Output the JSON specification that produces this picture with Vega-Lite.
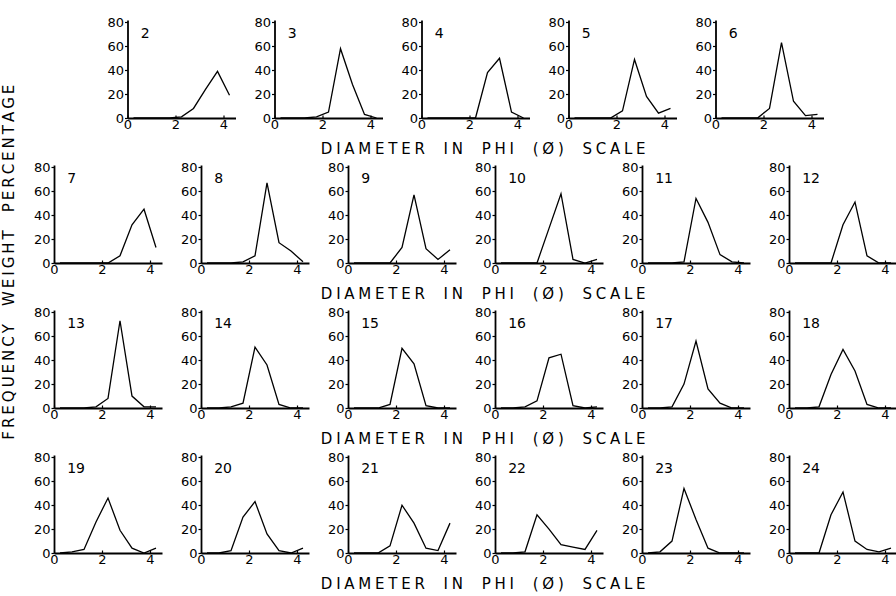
{
"$schema": "https://vega.github.io/schema/vega-lite/v6.json",
"padding": {"left": 2, "top": 16, "right": 0, "bottom": 0},
"background": "white",
"datasets": {"curves": [
{"panel":2,"phi":0.25,"pct":0},{"panel":2,"phi":0.75,"pct":0},{"panel":2,"phi":1.25,"pct":0},{"panel":2,"phi":1.75,"pct":0},{"panel":2,"phi":2.25,"pct":1},{"panel":2,"phi":2.75,"pct":8},{"panel":2,"phi":3.25,"pct":24},{"panel":2,"phi":3.75,"pct":39},{"panel":2,"phi":4.25,"pct":19},
{"panel":3,"phi":0.25,"pct":0},{"panel":3,"phi":0.75,"pct":0},{"panel":3,"phi":1.25,"pct":0},{"panel":3,"phi":1.75,"pct":1},{"panel":3,"phi":2.25,"pct":5},{"panel":3,"phi":2.75,"pct":58},{"panel":3,"phi":3.25,"pct":28},{"panel":3,"phi":3.75,"pct":3},{"panel":3,"phi":4.25,"pct":0},
{"panel":4,"phi":0.25,"pct":0},{"panel":4,"phi":0.75,"pct":0},{"panel":4,"phi":1.25,"pct":0},{"panel":4,"phi":1.75,"pct":0},{"panel":4,"phi":2.25,"pct":0},{"panel":4,"phi":2.75,"pct":38},{"panel":4,"phi":3.25,"pct":50},{"panel":4,"phi":3.75,"pct":5},{"panel":4,"phi":4.25,"pct":0},
{"panel":5,"phi":0.25,"pct":0},{"panel":5,"phi":0.75,"pct":0},{"panel":5,"phi":1.25,"pct":0},{"panel":5,"phi":1.75,"pct":0},{"panel":5,"phi":2.25,"pct":6},{"panel":5,"phi":2.75,"pct":49},{"panel":5,"phi":3.25,"pct":18},{"panel":5,"phi":3.75,"pct":4},{"panel":5,"phi":4.25,"pct":8},
{"panel":6,"phi":0.25,"pct":0},{"panel":6,"phi":0.75,"pct":0},{"panel":6,"phi":1.25,"pct":0},{"panel":6,"phi":1.75,"pct":0},{"panel":6,"phi":2.25,"pct":8},{"panel":6,"phi":2.75,"pct":63},{"panel":6,"phi":3.25,"pct":14},{"panel":6,"phi":3.75,"pct":2},{"panel":6,"phi":4.25,"pct":3},
{"panel":7,"phi":0.25,"pct":0},{"panel":7,"phi":0.75,"pct":0},{"panel":7,"phi":1.25,"pct":0},{"panel":7,"phi":1.75,"pct":0},{"panel":7,"phi":2.25,"pct":0},{"panel":7,"phi":2.75,"pct":6},{"panel":7,"phi":3.25,"pct":32},{"panel":7,"phi":3.75,"pct":45},{"panel":7,"phi":4.25,"pct":13},
{"panel":8,"phi":0.25,"pct":0},{"panel":8,"phi":0.75,"pct":0},{"panel":8,"phi":1.25,"pct":0},{"panel":8,"phi":1.75,"pct":1},{"panel":8,"phi":2.25,"pct":6},{"panel":8,"phi":2.75,"pct":67},{"panel":8,"phi":3.25,"pct":17},{"panel":8,"phi":3.75,"pct":10},{"panel":8,"phi":4.25,"pct":1},
{"panel":9,"phi":0.25,"pct":0},{"panel":9,"phi":0.75,"pct":0},{"panel":9,"phi":1.25,"pct":0},{"panel":9,"phi":1.75,"pct":0},{"panel":9,"phi":2.25,"pct":13},{"panel":9,"phi":2.75,"pct":57},{"panel":9,"phi":3.25,"pct":12},{"panel":9,"phi":3.75,"pct":3},{"panel":9,"phi":4.25,"pct":11},
{"panel":10,"phi":0.25,"pct":0},{"panel":10,"phi":0.75,"pct":0},{"panel":10,"phi":1.25,"pct":0},{"panel":10,"phi":1.75,"pct":0},{"panel":10,"phi":2.25,"pct":29},{"panel":10,"phi":2.75,"pct":58},{"panel":10,"phi":3.25,"pct":3},{"panel":10,"phi":3.75,"pct":0},{"panel":10,"phi":4.25,"pct":3},
{"panel":11,"phi":0.25,"pct":0},{"panel":11,"phi":0.75,"pct":0},{"panel":11,"phi":1.25,"pct":0},{"panel":11,"phi":1.75,"pct":1},{"panel":11,"phi":2.25,"pct":54},{"panel":11,"phi":2.75,"pct":34},{"panel":11,"phi":3.25,"pct":7},{"panel":11,"phi":3.75,"pct":1},{"panel":11,"phi":4.25,"pct":0},
{"panel":12,"phi":0.25,"pct":0},{"panel":12,"phi":0.75,"pct":0},{"panel":12,"phi":1.25,"pct":0},{"panel":12,"phi":1.75,"pct":0},{"panel":12,"phi":2.25,"pct":32},{"panel":12,"phi":2.75,"pct":51},{"panel":12,"phi":3.25,"pct":6},{"panel":12,"phi":3.75,"pct":0},{"panel":12,"phi":4.25,"pct":0},
{"panel":13,"phi":0.25,"pct":0},{"panel":13,"phi":0.75,"pct":0},{"panel":13,"phi":1.25,"pct":0},{"panel":13,"phi":1.75,"pct":1},{"panel":13,"phi":2.25,"pct":8},{"panel":13,"phi":2.75,"pct":73},{"panel":13,"phi":3.25,"pct":10},{"panel":13,"phi":3.75,"pct":1},{"panel":13,"phi":4.25,"pct":1},
{"panel":14,"phi":0.25,"pct":0},{"panel":14,"phi":0.75,"pct":0},{"panel":14,"phi":1.25,"pct":1},{"panel":14,"phi":1.75,"pct":4},{"panel":14,"phi":2.25,"pct":51},{"panel":14,"phi":2.75,"pct":36},{"panel":14,"phi":3.25,"pct":3},{"panel":14,"phi":3.75,"pct":0},{"panel":14,"phi":4.25,"pct":0},
{"panel":15,"phi":0.25,"pct":0},{"panel":15,"phi":0.75,"pct":0},{"panel":15,"phi":1.25,"pct":0},{"panel":15,"phi":1.75,"pct":3},{"panel":15,"phi":2.25,"pct":50},{"panel":15,"phi":2.75,"pct":37},{"panel":15,"phi":3.25,"pct":2},{"panel":15,"phi":3.75,"pct":0},{"panel":15,"phi":4.25,"pct":0},
{"panel":16,"phi":0.25,"pct":0},{"panel":16,"phi":0.75,"pct":0},{"panel":16,"phi":1.25,"pct":1},{"panel":16,"phi":1.75,"pct":6},{"panel":16,"phi":2.25,"pct":42},{"panel":16,"phi":2.75,"pct":45},{"panel":16,"phi":3.25,"pct":2},{"panel":16,"phi":3.75,"pct":0},{"panel":16,"phi":4.25,"pct":1},
{"panel":17,"phi":0.25,"pct":0},{"panel":17,"phi":0.75,"pct":0},{"panel":17,"phi":1.25,"pct":1},{"panel":17,"phi":1.75,"pct":20},{"panel":17,"phi":2.25,"pct":56},{"panel":17,"phi":2.75,"pct":16},{"panel":17,"phi":3.25,"pct":4},{"panel":17,"phi":3.75,"pct":0},{"panel":17,"phi":4.25,"pct":0},
{"panel":18,"phi":0.25,"pct":0},{"panel":18,"phi":0.75,"pct":0},{"panel":18,"phi":1.25,"pct":1},{"panel":18,"phi":1.75,"pct":28},{"panel":18,"phi":2.25,"pct":49},{"panel":18,"phi":2.75,"pct":31},{"panel":18,"phi":3.25,"pct":3},{"panel":18,"phi":3.75,"pct":0},{"panel":18,"phi":4.25,"pct":0},
{"panel":19,"phi":0.25,"pct":0},{"panel":19,"phi":0.75,"pct":1},{"panel":19,"phi":1.25,"pct":3},{"panel":19,"phi":1.75,"pct":26},{"panel":19,"phi":2.25,"pct":46},{"panel":19,"phi":2.75,"pct":19},{"panel":19,"phi":3.25,"pct":4},{"panel":19,"phi":3.75,"pct":0},{"panel":19,"phi":4.25,"pct":4},
{"panel":20,"phi":0.25,"pct":0},{"panel":20,"phi":0.75,"pct":0},{"panel":20,"phi":1.25,"pct":2},{"panel":20,"phi":1.75,"pct":30},{"panel":20,"phi":2.25,"pct":43},{"panel":20,"phi":2.75,"pct":16},{"panel":20,"phi":3.25,"pct":2},{"panel":20,"phi":3.75,"pct":0},{"panel":20,"phi":4.25,"pct":4},
{"panel":21,"phi":0.25,"pct":0},{"panel":21,"phi":0.75,"pct":0},{"panel":21,"phi":1.25,"pct":0},{"panel":21,"phi":1.75,"pct":6},{"panel":21,"phi":2.25,"pct":40},{"panel":21,"phi":2.75,"pct":25},{"panel":21,"phi":3.25,"pct":4},{"panel":21,"phi":3.75,"pct":2},{"panel":21,"phi":4.25,"pct":25},
{"panel":22,"phi":0.25,"pct":0},{"panel":22,"phi":0.75,"pct":0},{"panel":22,"phi":1.25,"pct":1},{"panel":22,"phi":1.75,"pct":32},{"panel":22,"phi":2.25,"pct":20},{"panel":22,"phi":2.75,"pct":7},{"panel":22,"phi":3.25,"pct":5},{"panel":22,"phi":3.75,"pct":3},{"panel":22,"phi":4.25,"pct":19},
{"panel":23,"phi":0.25,"pct":0},{"panel":23,"phi":0.75,"pct":1},{"panel":23,"phi":1.25,"pct":10},{"panel":23,"phi":1.75,"pct":54},{"panel":23,"phi":2.25,"pct":28},{"panel":23,"phi":2.75,"pct":4},{"panel":23,"phi":3.25,"pct":0},{"panel":23,"phi":3.75,"pct":0},{"panel":23,"phi":4.25,"pct":0},
{"panel":24,"phi":0.25,"pct":0},{"panel":24,"phi":0.75,"pct":0},{"panel":24,"phi":1.25,"pct":0},{"panel":24,"phi":1.75,"pct":32},{"panel":24,"phi":2.25,"pct":51},{"panel":24,"phi":2.75,"pct":10},{"panel":24,"phi":3.25,"pct":3},{"panel":24,"phi":3.75,"pct":1},{"panel":24,"phi":4.25,"pct":4}
]},
"data": {"name": "curves"},
"title": {"text": "F\u2009R\u2009E\u2009Q\u2009U\u2009E\u2009N\u2009C\u2009Y\u2003\u2009W\u2009E\u2009I\u2009G\u2009H\u2009T\u2003\u2009P\u2009E\u2009R\u2009C\u2009E\u2009N\u2009T\u2009A\u2009G\u2009E", "orient": "left", "anchor": "middle", "fontSize": 15, "offset": 16, "dx": 42},
"center": true,
"spacing": 4,
"vconcat": [
{"spacing": 18,
 "title": {"text": "D\u2005I\u2005A\u2005M\u2005E\u2005T\u2005E\u2005R\u2003\u2005I\u2005N\u2003\u2005P\u2005H\u2005I\u2003\u2005(\u2005Ø\u2005)\u2003\u2005S\u2005C\u2005A\u2005L\u2005E", "orient": "bottom", "anchor": "middle", "fontSize": 15, "offset": 11, "dx": 18},
 "hconcat": [
  {"width":108,"height":98,"transform":[{"filter":"datum.panel==2"}],"layer":[{"mark":{"type":"line","color":"black","strokeWidth":1.3},"encoding":{"x":{"field":"phi","type":"quantitative","scale":{"domain":[0,4.5],"nice":false},"title":null},"y":{"field":"pct","type":"quantitative","scale":{"domain":[0,82],"nice":false},"title":null}}},{"transform":[{"filter":"datum.phi==0.25"}],"mark":{"type":"text","align":"left","baseline":"middle","fontSize":14},"encoding":{"x":{"datum":0.55,"title":null},"y":{"datum":70,"title":null},"text":{"field":"panel"}}}]},
  {"width":108,"height":98,"transform":[{"filter":"datum.panel==3"}],"layer":[{"mark":{"type":"line","color":"black","strokeWidth":1.3},"encoding":{"x":{"field":"phi","type":"quantitative","scale":{"domain":[0,4.5],"nice":false},"title":null},"y":{"field":"pct","type":"quantitative","scale":{"domain":[0,82],"nice":false},"title":null}}},{"transform":[{"filter":"datum.phi==0.25"}],"mark":{"type":"text","align":"left","baseline":"middle","fontSize":14},"encoding":{"x":{"datum":0.55,"title":null},"y":{"datum":70,"title":null},"text":{"field":"panel"}}}]},
  {"width":108,"height":98,"transform":[{"filter":"datum.panel==4"}],"layer":[{"mark":{"type":"line","color":"black","strokeWidth":1.3},"encoding":{"x":{"field":"phi","type":"quantitative","scale":{"domain":[0,4.5],"nice":false},"title":null},"y":{"field":"pct","type":"quantitative","scale":{"domain":[0,82],"nice":false},"title":null}}},{"transform":[{"filter":"datum.phi==0.25"}],"mark":{"type":"text","align":"left","baseline":"middle","fontSize":14},"encoding":{"x":{"datum":0.55,"title":null},"y":{"datum":70,"title":null},"text":{"field":"panel"}}}]},
  {"width":108,"height":98,"transform":[{"filter":"datum.panel==5"}],"layer":[{"mark":{"type":"line","color":"black","strokeWidth":1.3},"encoding":{"x":{"field":"phi","type":"quantitative","scale":{"domain":[0,4.5],"nice":false},"title":null},"y":{"field":"pct","type":"quantitative","scale":{"domain":[0,82],"nice":false},"title":null}}},{"transform":[{"filter":"datum.phi==0.25"}],"mark":{"type":"text","align":"left","baseline":"middle","fontSize":14},"encoding":{"x":{"datum":0.55,"title":null},"y":{"datum":70,"title":null},"text":{"field":"panel"}}}]},
  {"width":108,"height":98,"transform":[{"filter":"datum.panel==6"}],"layer":[{"mark":{"type":"line","color":"black","strokeWidth":1.3},"encoding":{"x":{"field":"phi","type":"quantitative","scale":{"domain":[0,4.5],"nice":false},"title":null},"y":{"field":"pct","type":"quantitative","scale":{"domain":[0,82],"nice":false},"title":null}}},{"transform":[{"filter":"datum.phi==0.25"}],"mark":{"type":"text","align":"left","baseline":"middle","fontSize":14},"encoding":{"x":{"datum":0.55,"title":null},"y":{"datum":70,"title":null},"text":{"field":"panel"}}}]}
 ]},
{"spacing": 18,
 "title": {"text": "D\u2005I\u2005A\u2005M\u2005E\u2005T\u2005E\u2005R\u2003\u2005I\u2005N\u2003\u2005P\u2005H\u2005I\u2003\u2005(\u2005Ø\u2005)\u2003\u2005S\u2005C\u2005A\u2005L\u2005E", "orient": "bottom", "anchor": "middle", "fontSize": 15, "offset": 11, "dx": 18},
 "hconcat": [
  {"width":108,"height":98,"transform":[{"filter":"datum.panel==7"}],"layer":[{"mark":{"type":"line","color":"black","strokeWidth":1.3},"encoding":{"x":{"field":"phi","type":"quantitative","scale":{"domain":[0,4.5],"nice":false},"title":null},"y":{"field":"pct","type":"quantitative","scale":{"domain":[0,82],"nice":false},"title":null}}},{"transform":[{"filter":"datum.phi==0.25"}],"mark":{"type":"text","align":"left","baseline":"middle","fontSize":14},"encoding":{"x":{"datum":0.55,"title":null},"y":{"datum":70,"title":null},"text":{"field":"panel"}}}]},
  {"width":108,"height":98,"transform":[{"filter":"datum.panel==8"}],"layer":[{"mark":{"type":"line","color":"black","strokeWidth":1.3},"encoding":{"x":{"field":"phi","type":"quantitative","scale":{"domain":[0,4.5],"nice":false},"title":null},"y":{"field":"pct","type":"quantitative","scale":{"domain":[0,82],"nice":false},"title":null}}},{"transform":[{"filter":"datum.phi==0.25"}],"mark":{"type":"text","align":"left","baseline":"middle","fontSize":14},"encoding":{"x":{"datum":0.55,"title":null},"y":{"datum":70,"title":null},"text":{"field":"panel"}}}]},
  {"width":108,"height":98,"transform":[{"filter":"datum.panel==9"}],"layer":[{"mark":{"type":"line","color":"black","strokeWidth":1.3},"encoding":{"x":{"field":"phi","type":"quantitative","scale":{"domain":[0,4.5],"nice":false},"title":null},"y":{"field":"pct","type":"quantitative","scale":{"domain":[0,82],"nice":false},"title":null}}},{"transform":[{"filter":"datum.phi==0.25"}],"mark":{"type":"text","align":"left","baseline":"middle","fontSize":14},"encoding":{"x":{"datum":0.55,"title":null},"y":{"datum":70,"title":null},"text":{"field":"panel"}}}]},
  {"width":108,"height":98,"transform":[{"filter":"datum.panel==10"}],"layer":[{"mark":{"type":"line","color":"black","strokeWidth":1.3},"encoding":{"x":{"field":"phi","type":"quantitative","scale":{"domain":[0,4.5],"nice":false},"title":null},"y":{"field":"pct","type":"quantitative","scale":{"domain":[0,82],"nice":false},"title":null}}},{"transform":[{"filter":"datum.phi==0.25"}],"mark":{"type":"text","align":"left","baseline":"middle","fontSize":14},"encoding":{"x":{"datum":0.55,"title":null},"y":{"datum":70,"title":null},"text":{"field":"panel"}}}]},
  {"width":108,"height":98,"transform":[{"filter":"datum.panel==11"}],"layer":[{"mark":{"type":"line","color":"black","strokeWidth":1.3},"encoding":{"x":{"field":"phi","type":"quantitative","scale":{"domain":[0,4.5],"nice":false},"title":null},"y":{"field":"pct","type":"quantitative","scale":{"domain":[0,82],"nice":false},"title":null}}},{"transform":[{"filter":"datum.phi==0.25"}],"mark":{"type":"text","align":"left","baseline":"middle","fontSize":14},"encoding":{"x":{"datum":0.55,"title":null},"y":{"datum":70,"title":null},"text":{"field":"panel"}}}]},
  {"width":108,"height":98,"transform":[{"filter":"datum.panel==12"}],"layer":[{"mark":{"type":"line","color":"black","strokeWidth":1.3},"encoding":{"x":{"field":"phi","type":"quantitative","scale":{"domain":[0,4.5],"nice":false},"title":null},"y":{"field":"pct","type":"quantitative","scale":{"domain":[0,82],"nice":false},"title":null}}},{"transform":[{"filter":"datum.phi==0.25"}],"mark":{"type":"text","align":"left","baseline":"middle","fontSize":14},"encoding":{"x":{"datum":0.55,"title":null},"y":{"datum":70,"title":null},"text":{"field":"panel"}}}]}
 ]},
{"spacing": 18,
 "title": {"text": "D\u2005I\u2005A\u2005M\u2005E\u2005T\u2005E\u2005R\u2003\u2005I\u2005N\u2003\u2005P\u2005H\u2005I\u2003\u2005(\u2005Ø\u2005)\u2003\u2005S\u2005C\u2005A\u2005L\u2005E", "orient": "bottom", "anchor": "middle", "fontSize": 15, "offset": 11, "dx": 18},
 "hconcat": [
  {"width":108,"height":98,"transform":[{"filter":"datum.panel==13"}],"layer":[{"mark":{"type":"line","color":"black","strokeWidth":1.3},"encoding":{"x":{"field":"phi","type":"quantitative","scale":{"domain":[0,4.5],"nice":false},"title":null},"y":{"field":"pct","type":"quantitative","scale":{"domain":[0,82],"nice":false},"title":null}}},{"transform":[{"filter":"datum.phi==0.25"}],"mark":{"type":"text","align":"left","baseline":"middle","fontSize":14},"encoding":{"x":{"datum":0.55,"title":null},"y":{"datum":70,"title":null},"text":{"field":"panel"}}}]},
  {"width":108,"height":98,"transform":[{"filter":"datum.panel==14"}],"layer":[{"mark":{"type":"line","color":"black","strokeWidth":1.3},"encoding":{"x":{"field":"phi","type":"quantitative","scale":{"domain":[0,4.5],"nice":false},"title":null},"y":{"field":"pct","type":"quantitative","scale":{"domain":[0,82],"nice":false},"title":null}}},{"transform":[{"filter":"datum.phi==0.25"}],"mark":{"type":"text","align":"left","baseline":"middle","fontSize":14},"encoding":{"x":{"datum":0.55,"title":null},"y":{"datum":70,"title":null},"text":{"field":"panel"}}}]},
  {"width":108,"height":98,"transform":[{"filter":"datum.panel==15"}],"layer":[{"mark":{"type":"line","color":"black","strokeWidth":1.3},"encoding":{"x":{"field":"phi","type":"quantitative","scale":{"domain":[0,4.5],"nice":false},"title":null},"y":{"field":"pct","type":"quantitative","scale":{"domain":[0,82],"nice":false},"title":null}}},{"transform":[{"filter":"datum.phi==0.25"}],"mark":{"type":"text","align":"left","baseline":"middle","fontSize":14},"encoding":{"x":{"datum":0.55,"title":null},"y":{"datum":70,"title":null},"text":{"field":"panel"}}}]},
  {"width":108,"height":98,"transform":[{"filter":"datum.panel==16"}],"layer":[{"mark":{"type":"line","color":"black","strokeWidth":1.3},"encoding":{"x":{"field":"phi","type":"quantitative","scale":{"domain":[0,4.5],"nice":false},"title":null},"y":{"field":"pct","type":"quantitative","scale":{"domain":[0,82],"nice":false},"title":null}}},{"transform":[{"filter":"datum.phi==0.25"}],"mark":{"type":"text","align":"left","baseline":"middle","fontSize":14},"encoding":{"x":{"datum":0.55,"title":null},"y":{"datum":70,"title":null},"text":{"field":"panel"}}}]},
  {"width":108,"height":98,"transform":[{"filter":"datum.panel==17"}],"layer":[{"mark":{"type":"line","color":"black","strokeWidth":1.3},"encoding":{"x":{"field":"phi","type":"quantitative","scale":{"domain":[0,4.5],"nice":false},"title":null},"y":{"field":"pct","type":"quantitative","scale":{"domain":[0,82],"nice":false},"title":null}}},{"transform":[{"filter":"datum.phi==0.25"}],"mark":{"type":"text","align":"left","baseline":"middle","fontSize":14},"encoding":{"x":{"datum":0.55,"title":null},"y":{"datum":70,"title":null},"text":{"field":"panel"}}}]},
  {"width":108,"height":98,"transform":[{"filter":"datum.panel==18"}],"layer":[{"mark":{"type":"line","color":"black","strokeWidth":1.3},"encoding":{"x":{"field":"phi","type":"quantitative","scale":{"domain":[0,4.5],"nice":false},"title":null},"y":{"field":"pct","type":"quantitative","scale":{"domain":[0,82],"nice":false},"title":null}}},{"transform":[{"filter":"datum.phi==0.25"}],"mark":{"type":"text","align":"left","baseline":"middle","fontSize":14},"encoding":{"x":{"datum":0.55,"title":null},"y":{"datum":70,"title":null},"text":{"field":"panel"}}}]}
 ]},
{"spacing": 18,
 "title": {"text": "D\u2005I\u2005A\u2005M\u2005E\u2005T\u2005E\u2005R\u2003\u2005I\u2005N\u2003\u2005P\u2005H\u2005I\u2003\u2005(\u2005Ø\u2005)\u2003\u2005S\u2005C\u2005A\u2005L\u2005E", "orient": "bottom", "anchor": "middle", "fontSize": 15, "offset": 11, "dx": 18},
 "hconcat": [
  {"width":108,"height":98,"transform":[{"filter":"datum.panel==19"}],"layer":[{"mark":{"type":"line","color":"black","strokeWidth":1.3},"encoding":{"x":{"field":"phi","type":"quantitative","scale":{"domain":[0,4.5],"nice":false},"title":null},"y":{"field":"pct","type":"quantitative","scale":{"domain":[0,82],"nice":false},"title":null}}},{"transform":[{"filter":"datum.phi==0.25"}],"mark":{"type":"text","align":"left","baseline":"middle","fontSize":14},"encoding":{"x":{"datum":0.55,"title":null},"y":{"datum":70,"title":null},"text":{"field":"panel"}}}]},
  {"width":108,"height":98,"transform":[{"filter":"datum.panel==20"}],"layer":[{"mark":{"type":"line","color":"black","strokeWidth":1.3},"encoding":{"x":{"field":"phi","type":"quantitative","scale":{"domain":[0,4.5],"nice":false},"title":null},"y":{"field":"pct","type":"quantitative","scale":{"domain":[0,82],"nice":false},"title":null}}},{"transform":[{"filter":"datum.phi==0.25"}],"mark":{"type":"text","align":"left","baseline":"middle","fontSize":14},"encoding":{"x":{"datum":0.55,"title":null},"y":{"datum":70,"title":null},"text":{"field":"panel"}}}]},
  {"width":108,"height":98,"transform":[{"filter":"datum.panel==21"}],"layer":[{"mark":{"type":"line","color":"black","strokeWidth":1.3},"encoding":{"x":{"field":"phi","type":"quantitative","scale":{"domain":[0,4.5],"nice":false},"title":null},"y":{"field":"pct","type":"quantitative","scale":{"domain":[0,82],"nice":false},"title":null}}},{"transform":[{"filter":"datum.phi==0.25"}],"mark":{"type":"text","align":"left","baseline":"middle","fontSize":14},"encoding":{"x":{"datum":0.55,"title":null},"y":{"datum":70,"title":null},"text":{"field":"panel"}}}]},
  {"width":108,"height":98,"transform":[{"filter":"datum.panel==22"}],"layer":[{"mark":{"type":"line","color":"black","strokeWidth":1.3},"encoding":{"x":{"field":"phi","type":"quantitative","scale":{"domain":[0,4.5],"nice":false},"title":null},"y":{"field":"pct","type":"quantitative","scale":{"domain":[0,82],"nice":false},"title":null}}},{"transform":[{"filter":"datum.phi==0.25"}],"mark":{"type":"text","align":"left","baseline":"middle","fontSize":14},"encoding":{"x":{"datum":0.55,"title":null},"y":{"datum":70,"title":null},"text":{"field":"panel"}}}]},
  {"width":108,"height":98,"transform":[{"filter":"datum.panel==23"}],"layer":[{"mark":{"type":"line","color":"black","strokeWidth":1.3},"encoding":{"x":{"field":"phi","type":"quantitative","scale":{"domain":[0,4.5],"nice":false},"title":null},"y":{"field":"pct","type":"quantitative","scale":{"domain":[0,82],"nice":false},"title":null}}},{"transform":[{"filter":"datum.phi==0.25"}],"mark":{"type":"text","align":"left","baseline":"middle","fontSize":14},"encoding":{"x":{"datum":0.55,"title":null},"y":{"datum":70,"title":null},"text":{"field":"panel"}}}]},
  {"width":108,"height":98,"transform":[{"filter":"datum.panel==24"}],"layer":[{"mark":{"type":"line","color":"black","strokeWidth":1.3},"encoding":{"x":{"field":"phi","type":"quantitative","scale":{"domain":[0,4.5],"nice":false},"title":null},"y":{"field":"pct","type":"quantitative","scale":{"domain":[0,82],"nice":false},"title":null}}},{"transform":[{"filter":"datum.phi==0.25"}],"mark":{"type":"text","align":"left","baseline":"middle","fontSize":14},"encoding":{"x":{"datum":0.55,"title":null},"y":{"datum":70,"title":null},"text":{"field":"panel"}}}]}
 ]}
],
"config": {
 "view": {"stroke": null},
 "font": "DejaVu Sans",
 "text": {"font": "DejaVu Sans", "color": "black"},
 "title": {"font": "DejaVu Sans", "fontWeight": "normal", "color": "black"},
 "axis": {"grid": false, "domainColor": "black", "domainWidth": 1.8, "tickColor": "black", "tickWidth": 1.2, "labelColor": "black", "labelFont": "DejaVu Sans", "labelFontSize": 13, "labelOverlap": false, "labelBound": false, "labelFlush": false},
 "axisX": {"values": [0,0.5,1,1.5,2,2.5,3,3.5,4,4.5], "labelExpr": "datum.value % 1 == 0 && datum.value < 4.5 ? datum.label : ''", "tickSize": -3, "labelPadding": 3},
 "axisY": {"values": [20,40,60,80], "tickSize": 3, "labelPadding": 1}
}
}
